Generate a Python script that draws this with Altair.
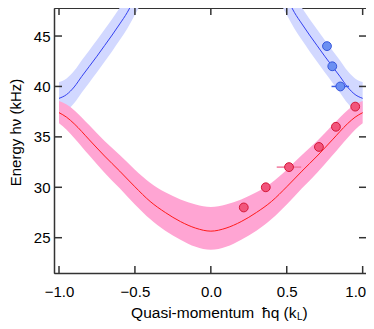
import altair as alt
import pandas as pd

# ---------------- data ----------------
# lower band (red) theory: quasi-momentum, centre line, upper / lower edge of band
red_q = [-1.0, -0.95, -0.9, -0.8, -0.7, -0.6, -0.5, -0.4, -0.3, -0.2, -0.1, 0.0,
         0.1, 0.2, 0.3, 0.4, 0.5, 0.6, 0.7, 0.8, 0.9, 0.95, 1.0]
red_mid = [37.4, 36.95, 36.3, 34.7, 33.1, 31.6, 30.05, 28.6, 27.5, 26.6, 25.95, 25.65,
           25.95, 26.6, 27.5, 28.6, 30.05, 31.6, 33.1, 34.7, 36.3, 36.95, 37.4]
red_hi = [38.55, 38.2, 37.65, 36.15, 34.6, 33.2, 31.75, 30.45, 29.5, 28.8, 28.3, 28.05,
          28.3, 28.8, 29.5, 30.45, 31.75, 33.2, 34.6, 36.15, 37.65, 38.2, 38.55]
red_lo = [36.34, 35.7, 34.9, 33.15, 31.45, 29.9, 28.3, 26.85, 25.7, 24.8, 24.1, 23.8,
          24.1, 24.8, 25.7, 26.85, 28.3, 29.9, 31.45, 33.15, 34.9, 35.7, 36.34]

# upper band (blue) theory line, two branches
blue_q = [-1.0, -0.95, -0.9, -0.85, -0.8, -0.75, -0.7, -0.65, -0.6, -0.55, -0.53,
          0.53, 0.55, 0.6, 0.65, 0.7, 0.75, 0.8, 0.85, 0.9, 0.95, 1.0]
blue_mid = [38.82, 39.2, 39.95, 41.0, 42.0, 43.0, 44.05, 45.1, 46.2, 47.35, 47.9,
            47.9, 47.35, 46.2, 45.1, 44.05, 43.0, 42.0, 41.0, 39.95, 39.2, 38.82]
blue_seg = ["L"] * 11 + ["R"] * 11

# upper band (blue) uncertainty band
blueband_q = [-1.0, -0.95, -0.9, -0.85, -0.8, -0.75, -0.7, -0.65, -0.6, -0.55, -0.5, -0.47,
              0.47, 0.5, 0.55, 0.6, 0.65, 0.7, 0.75, 0.8, 0.85, 0.9, 0.95, 1.0]
blueband_hi = [40.45, 40.8, 41.55, 42.6, 43.6, 44.6, 45.65, 46.7, 47.8, 48.95, 50.3, 51.2,
               51.2, 50.3, 48.95, 47.8, 46.7, 45.65, 44.6, 43.6, 42.6, 41.55, 40.8, 40.45]
blueband_lo = [37.2, 37.6, 38.35, 39.4, 40.4, 41.4, 42.45, 43.5, 44.6, 45.75, 47.1, 47.95,
               47.95, 47.1, 45.75, 44.6, 43.5, 42.45, 41.4, 40.4, 39.4, 38.35, 37.6, 37.2]
blueband_seg = ["L"] * 12 + ["R"] * 12

# measured points
red_pts_q = [0.217, 0.362, 0.515, 0.712, 0.824, 0.951]
red_pts_E = [28.0, 30.0, 32.0, 34.0, 36.0, 38.0]
blue_pts_q = [0.765, 0.80, 0.853]
blue_pts_E = [44.0, 42.0, 40.0]

# horizontal error bars
err_q1 = [0.434, 0.795]
err_q2 = [0.595, 0.91]
err_E = [32.0, 40.0]
err_grp = ["red", "blue"]

x_ticks = [-1.0, -0.5, 0.0, 0.5, 1.0]
y_ticks = [25, 30, 35, 40, 45]

x_title = "Quasi-momentum\u2002\u0127q (k"
x_title_sub = "L"
x_title_end = ")"
y_title = "Energy h\u03bd (kHz)"

# ---------------- chart ----------------
W, H = 312, 265
FONT = "Liberation Sans"

xs = alt.Scale(domain=[-1.033, 1.022], nice=False, zero=False)
ys = alt.Scale(domain=[21.5, 47.78], nice=False, zero=False)

xaxis = alt.Axis(values=x_ticks, format=".1f", title=None, ticks=False, tickSize=0,
                 grid=False, labelPadding=11, labelFontSize=15, labelFont=FONT,
                 labelColor="black", domainColor="#333", domainWidth=1.5,
                 labelFlush=4, labelFlushOffset=3, labelOverlap=False)
yaxis = alt.Axis(values=y_ticks, format="d", title=None, ticks=False, tickSize=0,
                 grid=False, labelPadding=4, labelFontSize=15, labelFont=FONT,
                 labelColor="black", domainColor="#333", domainWidth=1.5,
                 labelFlush=False, labelOverlap=False)

red_df = pd.DataFrame({"q": red_q, "mid": red_mid, "hi": red_hi, "lo": red_lo})
blue_df = pd.DataFrame({"q": blue_q, "mid": blue_mid, "seg": blue_seg})
bband_df = pd.DataFrame({"q": blueband_q, "hi": blueband_hi, "lo": blueband_lo,
                         "seg": blueband_seg})
rp_df = pd.DataFrame({"q": red_pts_q, "E": red_pts_E})
bp_df = pd.DataFrame({"q": blue_pts_q, "E": blue_pts_E})
err_df = pd.DataFrame({"q1": err_q1, "q2": err_q2, "E": err_E, "g": err_grp})

X = lambda f: alt.X(f, type="quantitative", scale=xs, axis=xaxis)
Y = lambda f: alt.Y(f, type="quantitative", scale=ys, axis=yaxis)

blue_band = alt.Chart(bband_df).mark_area(color="#d2d8ff", opacity=1, clip=True,
                                          interpolate="monotone").encode(
    x=X("q"), y=Y("lo"), y2="hi", detail="seg:N")
blue_line = alt.Chart(blue_df).mark_line(color="#3340f0", strokeWidth=1, clip=True,
                                         interpolate="monotone").encode(
    x=X("q"), y=Y("mid"), detail="seg:N")
red_band = alt.Chart(red_df).mark_area(color="#ffa5d3", opacity=1, clip=True,
                                       interpolate="monotone").encode(
    x=X("q"), y=Y("lo"), y2="hi")
red_line = alt.Chart(red_df).mark_line(color="#ff1a1a", strokeWidth=1, clip=True,
                                       interpolate="monotone").encode(
    x=X("q"), y=Y("mid"))
errs = alt.Chart(err_df).mark_rule(strokeWidth=1.5).encode(
    x=X("q1"), x2="q2", y=Y("E"),
    color=alt.Color("g:N", scale=alt.Scale(domain=["red", "blue"],
                                           range=["#f27a9e", "#3d5fe6"]), legend=None))
red_pts = alt.Chart(rp_df).mark_point(shape="circle", filled=True, size=78,
                                      fill="#f2557c", stroke="#d41838", strokeWidth=1,
                                      opacity=1).encode(x=X("q"), y=Y("E"))
blue_pts = alt.Chart(bp_df).mark_point(shape="circle", filled=True, size=78,
                                       fill="#6b8ff2", stroke="#3656dc", strokeWidth=1,
                                       opacity=1).encode(x=X("q"), y=Y("E"))

xt_df = pd.DataFrame({"v": x_ticks})
yt_df = pd.DataFrame({"v": y_ticks})
tick_col = "#333"
xt_bot = alt.Chart(xt_df).mark_rule(color=tick_col, strokeWidth=1.5).encode(
    x=X("v"), y=alt.value(H), y2=alt.value(H - 7))
xt_top = alt.Chart(xt_df).mark_rule(color=tick_col, strokeWidth=1.5).encode(
    x=X("v"), y=alt.value(0), y2=alt.value(7))
yt_left = alt.Chart(yt_df).mark_rule(color=tick_col, strokeWidth=1.5).encode(
    y=Y("v"), x=alt.value(0), x2=alt.value(8))
yt_right = alt.Chart(yt_df).mark_rule(color=tick_col, strokeWidth=1.5).encode(
    y=Y("v"), x=alt.value(W), x2=alt.value(W - 7))

t1 = alt.Chart(pd.DataFrame({"t": [x_title]})).mark_text(
    font=FONT, fontSize=15.5, align="right", baseline="alphabetic", color="black").encode(
    text="t:N", x=alt.value(242.5), y=alt.value(309.5))
t2 = alt.Chart(pd.DataFrame({"t": [x_title_sub]})).mark_text(
    font=FONT, fontSize=10, align="left", baseline="alphabetic", color="black").encode(
    text="t:N", x=alt.value(243), y=alt.value(311.5))
t3 = alt.Chart(pd.DataFrame({"t": [x_title_end]})).mark_text(
    font=FONT, fontSize=15.5, align="left", baseline="alphabetic", color="black").encode(
    text="t:N", x=alt.value(248.5), y=alt.value(309.5))
ty = alt.Chart(pd.DataFrame({"t": [y_title]})).mark_text(
    font=FONT, fontSize=15, align="center", baseline="alphabetic", angle=270,
    color="black").encode(text="t:N", x=alt.value(-33), y=alt.value(124.5))

chart = alt.layer(
    blue_band, blue_line, red_band, red_line, errs, red_pts, blue_pts,
    xt_bot, xt_top, yt_left, yt_right, t1, t2, t3, ty
).properties(
    width=W, height=H,
    autosize=alt.AutoSizeParams(type="none"),
    padding={"left": 46, "top": 0, "right": 0, "bottom": 48},
    background="white",
).configure_view(stroke="#333", strokeWidth=1)

chart.save("out.html", embed_options={"renderer": "svg", "actions": False})
